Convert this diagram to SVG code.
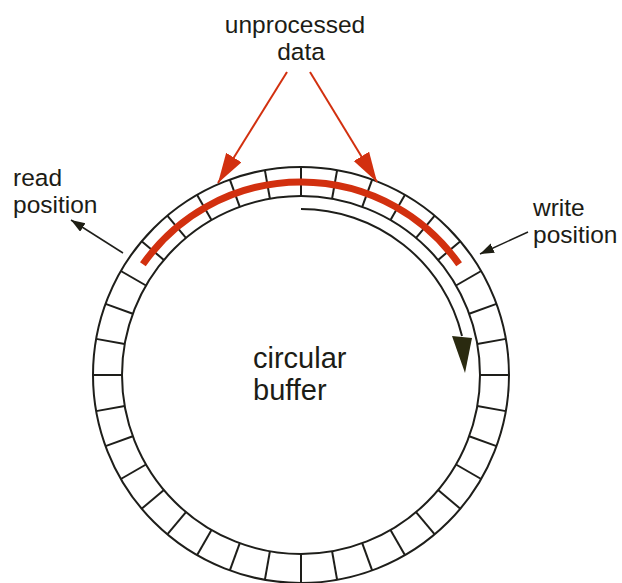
<svg xmlns="http://www.w3.org/2000/svg" xmlns:xlink="http://www.w3.org/1999/xlink" width="622" height="583" viewBox="0 0 622 583">
<style>
.lbl{font-family:"Liberation Sans",Arial,Helvetica,sans-serif;font-size:24.5px;fill:#1c1c16}
.big{font-size:29px}
.ring{fill:none;stroke:#1e1e1a;stroke-width:2}
.red{stroke:#d2300f;fill:none}
.blk{stroke:#1e1e1a;fill:none}
</style>
<defs>
<marker id="redHead" markerUnits="userSpaceOnUse" markerWidth="34" markerHeight="20" refX="30" refY="9" orient="auto">
<path d="M0,0 L30,9 L0,18 Z" fill="#d2300f"/>
</marker>
<marker id="blkHead" markerUnits="userSpaceOnUse" markerWidth="16" markerHeight="12" refX="14" refY="5" orient="auto">
<path d="M0,0 L14,5 L0,10 Z" fill="#1e1e14"/>
</marker>
<line id="div" x1="480" y1="375" x2="509" y2="375" class="ring"/>
</defs>
<rect width="622" height="583" fill="#ffffff"/>

<g id="buffer">
<circle cx="301" cy="375" r="208" class="ring"/>
<circle cx="301" cy="375" r="179" class="ring"/>
<use xlink:href="#div" transform="rotate(0 301 375)"/>
<use xlink:href="#div" transform="rotate(10 301 375)"/>
<use xlink:href="#div" transform="rotate(20 301 375)"/>
<use xlink:href="#div" transform="rotate(30 301 375)"/>
<use xlink:href="#div" transform="rotate(40 301 375)"/>
<use xlink:href="#div" transform="rotate(50 301 375)"/>
<use xlink:href="#div" transform="rotate(60 301 375)"/>
<use xlink:href="#div" transform="rotate(70 301 375)"/>
<use xlink:href="#div" transform="rotate(80 301 375)"/>
<use xlink:href="#div" transform="rotate(90 301 375)"/>
<use xlink:href="#div" transform="rotate(100 301 375)"/>
<use xlink:href="#div" transform="rotate(110 301 375)"/>
<use xlink:href="#div" transform="rotate(120 301 375)"/>
<use xlink:href="#div" transform="rotate(130 301 375)"/>
<use xlink:href="#div" transform="rotate(140 301 375)"/>
<use xlink:href="#div" transform="rotate(150 301 375)"/>
<use xlink:href="#div" transform="rotate(160 301 375)"/>
<use xlink:href="#div" transform="rotate(170 301 375)"/>
<use xlink:href="#div" transform="rotate(180 301 375)"/>
<use xlink:href="#div" transform="rotate(190 301 375)"/>
<use xlink:href="#div" transform="rotate(200 301 375)"/>
<use xlink:href="#div" transform="rotate(210 301 375)"/>
<use xlink:href="#div" transform="rotate(220 301 375)"/>
<use xlink:href="#div" transform="rotate(230 301 375)"/>
<use xlink:href="#div" transform="rotate(240 301 375)"/>
<use xlink:href="#div" transform="rotate(250 301 375)"/>
<use xlink:href="#div" transform="rotate(260 301 375)"/>
<use xlink:href="#div" transform="rotate(270 301 375)"/>
<use xlink:href="#div" transform="rotate(280 301 375)"/>
<use xlink:href="#div" transform="rotate(290 301 375)"/>
<use xlink:href="#div" transform="rotate(300 301 375)"/>
<use xlink:href="#div" transform="rotate(310 301 375)"/>
<use xlink:href="#div" transform="rotate(320 301 375)"/>
<use xlink:href="#div" transform="rotate(330 301 375)"/>
<use xlink:href="#div" transform="rotate(340 301 375)"/>
<use xlink:href="#div" transform="rotate(350 301 375)"/>
<text class="lbl big" x="253" y="368">circular</text>
<text class="lbl big" x="253" y="400">buffer</text>
</g>

<g id="unprocessed-span">
<path d="M142.9,264.3 A193,193 0 0 1 459.1,264.3" class="red" stroke-width="7"/>
</g>

<g id="label-unprocessed">
<text class="lbl" x="295" y="33" text-anchor="middle">unprocessed</text>
<text class="lbl" x="301" y="60" text-anchor="middle">data</text>
</g>

<g id="label-read">
<text class="lbl" x="13" y="186">read</text>
<text class="lbl" x="13" y="213">position</text>
</g>

<g id="label-write">
<text class="lbl" x="533" y="216">write</text>
<text class="lbl" x="533" y="243">position</text>
</g>

<g id="connectors">
<line x1="287" y1="72" x2="218" y2="183" class="red" stroke-width="2" marker-end="url(#redHead)"/>
<line x1="310" y1="72" x2="377" y2="182" class="red" stroke-width="2" marker-end="url(#redHead)"/>
<line x1="123" y1="253" x2="71" y2="220" class="blk" stroke-width="1.5" marker-end="url(#blkHead)"/>
<line x1="528" y1="232" x2="480" y2="254" class="blk" stroke-width="1.5" marker-end="url(#blkHead)"/>
<path d="M301,209 A166,166 0 0 1 462,336" class="blk" stroke-width="2"/>
<polygon points="452,336 472,338 465,373" fill="#2a2a10"/>
</g>
</svg>
